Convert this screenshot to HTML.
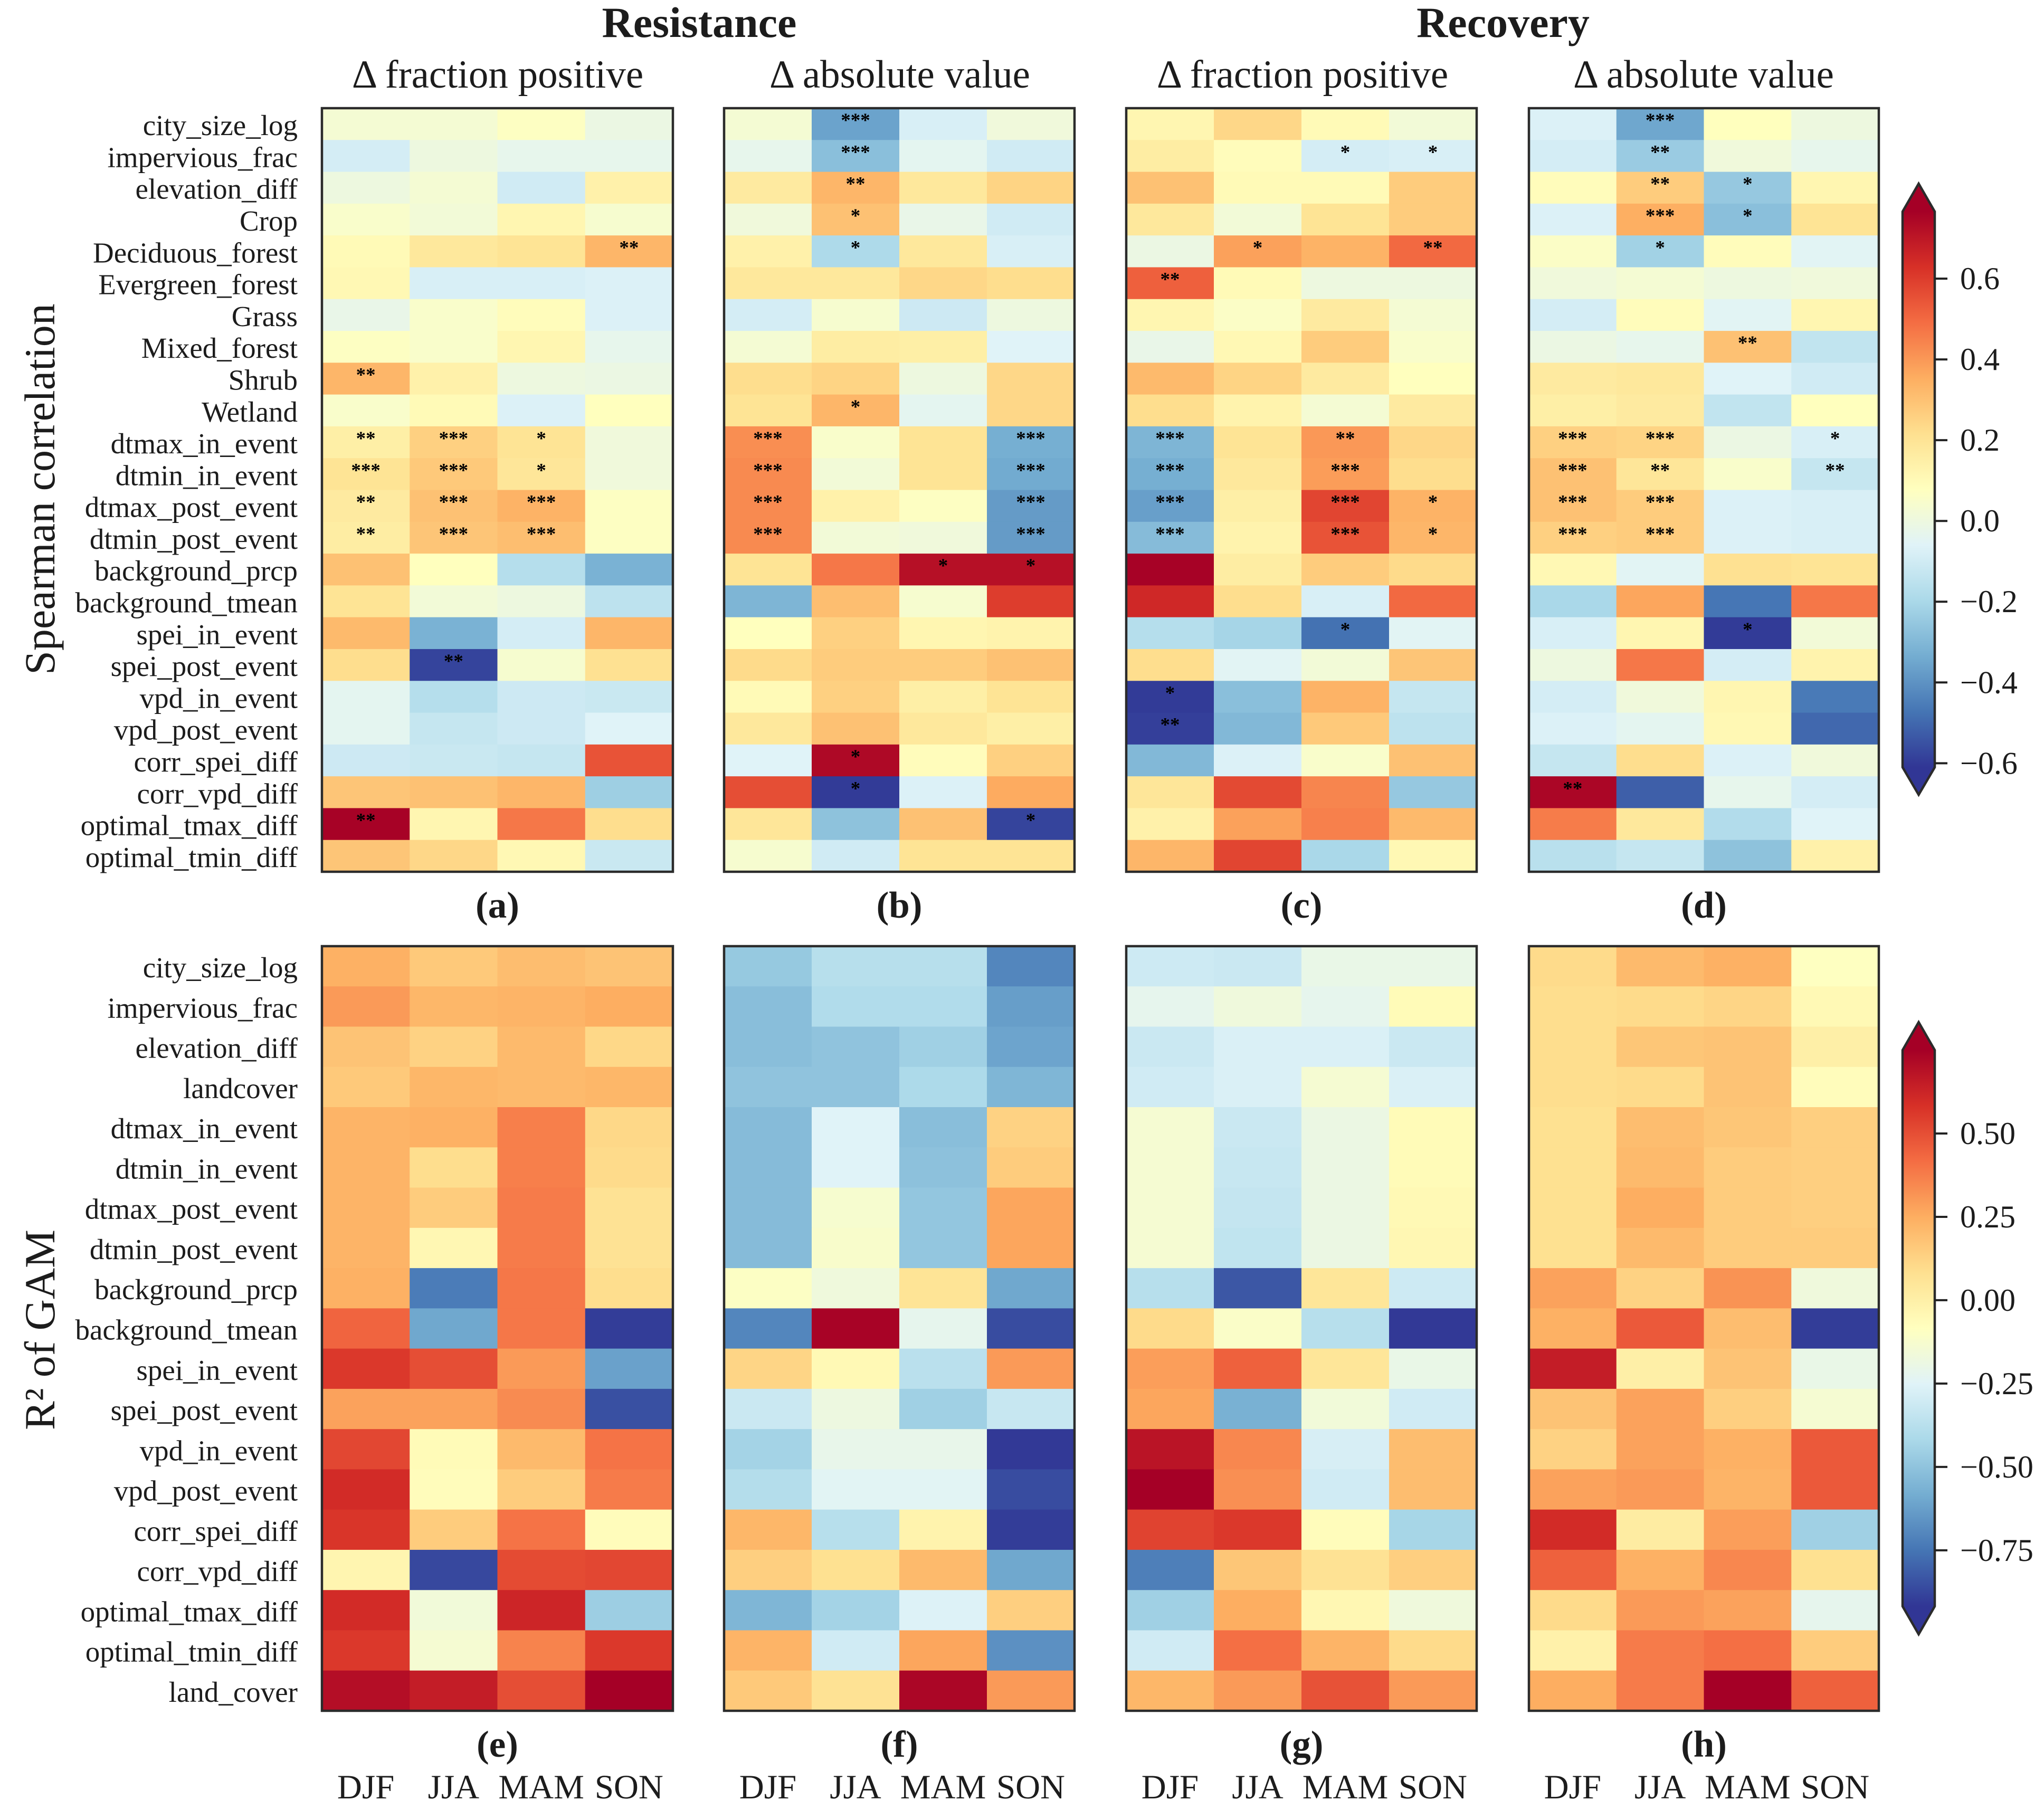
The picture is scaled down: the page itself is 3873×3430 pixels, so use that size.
<!DOCTYPE html>
<html>
<head>
<meta charset="utf-8">
<title>Spearman correlation and GAM R² heatmaps</title>
<style>
html,body{margin:0;padding:0;background:#fff;}
#chart{display:block;width:3873px;height:3430px;}
text{font-family:"Liberation Serif",serif;fill:#1c1c1c;}
</style>
</head>
<body>
<svg id="chart" xmlns="http://www.w3.org/2000/svg" width="3873" height="3430" viewBox="0 0 3873 3430">
<defs id="defs"></defs>
<rect x="0" y="0" width="3873" height="3430" fill="#fff"/>
<text x="1325" y="70" font-size="82" font-weight="bold" text-anchor="middle">Resistance</text>
<text x="2848" y="70" font-size="82" font-weight="bold" text-anchor="middle">Recovery</text>
<text x="943" y="166" font-size="75" text-anchor="middle">Δ fraction positive</text>
<text x="1705" y="166" font-size="75" text-anchor="middle">Δ absolute value</text>
<text x="2468" y="166" font-size="75" text-anchor="middle">Δ fraction positive</text>
<text x="3228" y="166" font-size="75" text-anchor="middle">Δ absolute value</text>
<text transform="translate(103,927) rotate(-90)" font-size="82" text-anchor="middle">Spearman correlation</text>
<text transform="translate(103,2520) rotate(-90)" font-size="82" text-anchor="middle">R² of GAM</text>
<g id="plots"></g>
<g id="bars"></g>
</svg>
<script>
const seasons = ['DJF','JJA','MAM','SON'];
const topRows = ['city_size_log','impervious_frac','elevation_diff','Crop','Deciduous_forest','Evergreen_forest','Grass','Mixed_forest','Shrub','Wetland','dtmax_in_event','dtmin_in_event','dtmax_post_event','dtmin_post_event','background_prcp','background_tmean','spei_in_event','spei_post_event','vpd_in_event','vpd_post_event','corr_spei_diff','corr_vpd_diff','optimal_tmax_diff','optimal_tmin_diff'];
const bottomRows = ['city_size_log','impervious_frac','elevation_diff','landcover','dtmax_in_event','dtmin_in_event','dtmax_post_event','dtmin_post_event','background_prcp','background_tmean','spei_in_event','spei_post_event','vpd_in_event','vpd_post_event','corr_spei_diff','corr_vpd_diff','optimal_tmax_diff','optimal_tmin_diff','land_cover'];

const valuesA = [[.03,.03,.07,-.01],[-.09,0,-.03,-.03],[0,.03,-.1,.14],[.05,.02,.12,.04],[.1,.18,.2,.33],[.11,-.08,-.08,-.07],[-.02,.05,.09,-.07],[.07,.05,.12,-.03],[.33,.14,0,-.01],[.05,.1,-.07,.08],[.15,.26,.2,.01],[.2,.28,.19,.01],[.17,.3,.34,.07],[.16,.29,.31,.07],[.3,.08,-.17,-.32],[.2,.02,0,-.15],[.32,-.32,-.09,.33],[.22,-.58,.04,.21],[-.04,-.17,-.11,-.12],[-.04,-.13,-.11,-.06],[-.11,-.12,-.13,.55],[.29,.3,.33,-.23],[.76,.12,.47,.22],[.29,.24,.11,-.12]];
const valuesB = [[.03,-.36,-.08,.01],[-.03,-.28,-.04,-.1],[.17,.33,.18,.25],[.01,.3,-.02,-.1],[.14,-.19,.18,-.08],[.18,.18,.24,.22],[-.09,.04,-.11,0],[.03,.16,.15,-.06],[.22,.25,0,.24],[.2,.33,-.04,.24],[.42,.05,.2,-.33],[.43,.02,.2,-.34],[.43,.14,.07,-.38],[.43,.02,.01,-.38],[.2,.47,.72,.72],[-.31,.31,.04,.6],[.08,.26,.12,.13],[.23,.27,.27,.3],[.1,.26,.15,.2],[.18,.3,.18,.15],[-.06,.74,.09,.26],[.56,-.6,-.07,.36],[.19,-.27,.3,-.58],[.04,-.1,.2,.2]];
const valuesC = [[.12,.24,.1,.02],[.16,.09,-.09,-.08],[.3,.1,.1,.27],[.18,.02,.2,.27],[-.01,.38,.34,.5],[.52,.1,0,0],[.12,.06,.17,.03],[-.02,.11,.27,.05],[.32,.25,.17,.08],[.22,.13,.03,.17],[-.31,.2,.4,.24],[-.33,.18,.39,.22],[-.37,.15,.58,.34],[-.29,.13,.55,.33],[.76,.16,.27,.23],[.65,.22,-.08,.5],[-.17,-.21,-.48,-.05],[.22,-.05,.02,.29],[-.6,-.28,.34,-.13],[-.59,-.3,.28,-.15],[-.3,-.07,.05,.3],[.19,.57,.44,-.25],[.14,.38,.45,.32],[.33,.58,-.2,.11]];
const valuesD = [[-.07,-.35,.08,0],[-.09,-.24,.01,-.03],[.09,.27,-.25,.12],[-.07,.35,-.28,.2],[.06,-.22,.09,-.05],[.01,.03,0,.01],[-.09,.09,-.05,.12],[-.01,-.03,.3,-.14],[.17,.18,-.06,-.1],[.15,.17,-.14,.08],[.26,.25,-.01,-.08],[.3,.19,.05,-.13],[.3,.27,-.07,-.08],[.26,.27,-.07,-.08],[.11,-.05,.21,.2],[-.2,.37,-.47,.47],[-.08,.12,-.6,.02],[0,.47,-.09,.13],[-.09,.01,.12,-.46],[-.07,-.04,.11,-.5],[-.13,.22,-.07,.01],[.75,-.52,-.03,-.09],[.46,.18,-.18,-.06],[-.16,-.13,-.27,.14]];
const starsA = ['','','','','...**','','','','**','','** *** *','*** *** *','** *** ***','** *** ***','','','','.**','','','','','**',''];
const starsB = ['.***','.***','.**','.*','.*','','','','','.*','*** . . ***','*** . . ***','*** . . ***','*** . . ***','. . * *','','','','','','.*','.*','...*',''];
const starsC = ['','..* *','','','.* .**','**','','','','','*** . ** ','*** . *** ','*** . *** *','*** . *** *','','','..*','','*','**','','','',''];
const starsD = ['.***','.**','.** *','.*** *','.*','','','..**','','','*** *** . *','*** ** . **','*** ***','*** ***','','','..*','','','','','**','',''];

const valuesE = [[.24,.16,.2,.18],[.3,.22,.23,.25],[.18,.13,.21,.11],[.16,.22,.21,.22],[.23,.24,.37,.11],[.23,.09,.37,.1],[.23,.15,.38,.07],[.23,-.04,.38,.07],[.24,-.73,.39,.09],[.44,-.6,.39,-.9],[.56,.5,.3,-.62],[.28,.28,.34,-.85],[.52,-.06,.21,.4],[.6,-.07,.15,.38],[.57,.15,.4,-.07],[-.03,-.87,.51,.52],[.6,-.16,.62,-.46],[.56,-.14,.36,.56],[.7,.65,.5,.75]];
const valuesF = [[-.48,-.38,-.38,-.7],[-.52,-.4,-.4,-.63],[-.52,-.5,-.45,-.61],[-.5,-.5,-.41,-.55],[-.53,-.25,-.52,.13],[-.53,-.25,-.51,.15],[-.53,-.13,-.49,.27],[-.53,-.12,-.49,.27],[-.1,-.17,.06,-.6],[-.7,.74,-.22,-.86],[.12,-.05,-.37,.3],[-.32,-.18,-.45,-.33],[-.44,-.21,-.21,-.91],[-.39,-.24,-.24,-.86],[.22,-.38,-.02,-.9],[.14,.08,.21,-.6],[-.55,-.44,-.26,.14],[.23,-.3,.27,-.67],[.16,.07,.73,.3]];
const valuesG = [[-.31,-.32,-.2,-.2],[-.22,-.17,-.22,-.06],[-.32,-.27,-.27,-.32],[-.3,-.27,-.14,-.27],[-.14,-.32,-.19,-.06],[-.14,-.33,-.19,-.06],[-.14,-.34,-.19,-.05],[-.14,-.35,-.19,-.04],[-.38,-.83,.05,-.31],[.1,-.11,-.38,-.91],[.29,.45,.05,-.2],[.27,-.57,-.16,-.3],[.68,.35,-.28,.2],[.75,.33,-.3,.2],[.53,.56,-.07,-.43],[-.72,.17,.07,.14],[-.45,.25,-.04,-.17],[-.3,.41,.23,.1],[.22,.3,.49,.3]];
const valuesH = [[.1,.21,.24,-.09],[.09,.1,.12,-.05],[.09,.17,.18,0],[.09,.1,.18,-.07],[.08,.2,.17,.14],[.08,.21,.15,.14],[.08,.25,.15,.14],[.08,.21,.15,.15],[.28,.13,.32,-.17],[.24,.47,.2,-.9],[.65,0,.18,-.2],[.18,.28,.14,-.14],[.13,.28,.24,.47],[.28,.3,.23,.47],[.6,.02,.29,-.45],[.45,.24,.35,.08],[.1,.3,.28,-.22],[-.01,.38,.41,.15],[.25,.38,.75,.45]];

const topTicks = [0.6,0.4,0.2,0.0,-0.2,-0.4,-0.6];
const topTickLabels = ['0.6','0.4','0.2','0.0','−0.2','−0.4','−0.6'];
const bottomTicks = [0.5,0.25,0,-0.25,-0.5,-0.75];
const bottomTickLabels = ['0.50','0.25','0.00','−0.25','−0.50','−0.75'];
const topRange = [-0.61,0.766];
const bottomRange = [-0.918,0.75];
const cmapStops = ['#313695','#4575b4','#74add1','#abd9e9','#e0f3f8','#ffffbf','#fee090','#fdae61','#f46d43','#d73027','#a50026'];

const NS = 'http://www.w3.org/2000/svg';
const plots = document.getElementById('plots');
const bars = document.getElementById('bars');
const defs = document.getElementById('defs');

function mk(tag, attrs, parent){
  const el = document.createElementNS(NS, tag);
  for (const k in attrs) el.setAttribute(k, attrs[k]);
  parent.appendChild(el);
  return el;
}
function hex(c){return [1,3,5].map(i=>parseInt(c.substr(i,2),16));}
function colorFor(v, range){
  let t = (v-range[0])/(range[1]-range[0]);
  t = Math.max(0,Math.min(1,t))*(cmapStops.length-1);
  const i = Math.min(Math.floor(t),cmapStops.length-2), f = t-i;
  const a = hex(cmapStops[i]), b = hex(cmapStops[i+1]);
  return 'rgb('+a.map((x,j)=>Math.round(x+(b[j]-x)*f)).join(',')+')';
}
function parseStars(s){
  // tokens separated by space; leading dots mark empty columns
  const out = ['','','',''];
  let col = 0;
  s.replace(/\./g,'. ').trim().split(/\s+/).forEach(tok=>{
    if (tok==='') return;
    if (tok==='.') { col++; return; }
    if (col<4) out[col] = tok;
    col++;
  });
  return out;
}

const panelLayout = [
  {id:'a',x0:610,x1:1275,y0:205,y1:1652,rows:topRows,vals:valuesA,stars:starsA,range:topRange},
  {id:'b',x0:1372,x1:2036,y0:205,y1:1652,rows:null,vals:valuesB,stars:starsB,range:topRange},
  {id:'c',x0:2134,x1:2798,y0:205,y1:1652,rows:null,vals:valuesC,stars:starsC,range:topRange},
  {id:'d',x0:2897,x1:3560,y0:205,y1:1652,rows:null,vals:valuesD,stars:starsD,range:topRange},
  {id:'e',x0:610,x1:1275,y0:1793,y1:3242,rows:bottomRows,vals:valuesE,stars:null,range:bottomRange},
  {id:'f',x0:1372,x1:2036,y0:1793,y1:3242,rows:null,vals:valuesF,stars:null,range:bottomRange},
  {id:'g',x0:2134,x1:2798,y0:1793,y1:3242,rows:null,vals:valuesG,stars:null,range:bottomRange},
  {id:'h',x0:2897,x1:3560,y0:1793,y1:3242,rows:null,vals:valuesH,stars:null,range:bottomRange}
];

panelLayout.forEach(function(p){
  const g = mk('g',{},plots);
  
  
  const nRows = p.vals.length, nCols = seasons.length;
  const xOf = c => p.x0 + (p.x1-p.x0)*c/nCols;
  const yOf = r => p.y0 + (p.y1-p.y0)*r/nRows;
  p.vals.forEach(function(row,r){
    row.forEach(function(v,c){
      const cell = mk('rect',{x:xOf(c),y:yOf(r),width:xOf(c+1)-xOf(c)+0.6,height:yOf(r+1)-yOf(r)+0.6,fill:colorFor(v,p.range)},g);
      
      
    });
  });
  if (p.stars) p.stars.forEach(function(s,r){
    parseStars(s).forEach(function(st,c){
      if(!st) return;
      const t = mk('text',{x:(xOf(c)+xOf(c+1))/2,y:(yOf(r)+yOf(r+1))/2+5,'font-size':37,'font-weight':'bold','text-anchor':'middle',style:'fill:#000'},g);
      
      
      t.textContent = st;
    });
  });
  const frame = mk('rect',{x:p.x0,y:p.y0,width:p.x1-p.x0,height:p.y1-p.y0,fill:'none',stroke:'#2b2b2b','stroke-width':4.5},g);
  
  
  if (p.rows) p.rows.forEach(function(name,r){
    const t = mk('text',{x:564,y:(yOf(r)+yOf(r+1))/2+21,'font-size':55,'text-anchor':'end'},g);
    
    
    t.textContent = name;
  });
  const lab = mk('text',{x:(p.x0+p.x1)/2,y:p.y1+87,'font-size':71,'font-weight':'bold','text-anchor':'middle'},g);
  
  
  lab.textContent = '('+p.id+')';
  if (p.y0>1000) seasons.forEach(function(s,c){
    const t = mk('text',{x:(xOf(c)+xOf(c+1))/2,y:3408,'font-size':65,'text-anchor':'middle'},g);
    
    
    t.textContent = s;
  });
});

function drawColorbar(id, x0, x1, tipTop, yTop, yBot, tipBot, range, ticks, labels){
  const grad = mk('linearGradient',{id:'grad-'+id,gradientUnits:'userSpaceOnUse',x1:0,x2:0,y1:yBot,y2:yTop},defs);
  cmapStops.forEach(function(c,i){
    mk('stop',{offset:i/(cmapStops.length-1),'stop-color':c},grad);
  });
  const g = mk('g',{},bars);
  
  
  const xm = (x0+x1)/2;
  const pts = [[xm,tipTop],[x1,yTop],[x1,yBot],[xm,tipBot],[x0,yBot],[x0,yTop]].map(a=>a.join(',')).join(' ');
  const body = mk('polygon',{points:pts,fill:'url(#grad-'+id+')',stroke:'#2b2b2b','stroke-width':4.5,'stroke-linejoin':'miter'},g);
  
  
  const yOf = v => yBot + (yTop-yBot)*(v-range[0])/(range[1]-range[0]);
  ticks.forEach(function(v,i){
    const y = yOf(v);
    const tk = mk('line',{x1:x1,x2:x1+24,y1:y,y2:y,stroke:'#222','stroke-width':4},g);
    
    
    const t = mk('text',{x:3714,y:y+20,'font-size':60},g);
    
    
    t.textContent = labels[i];
  });
}
drawColorbar('top',3605,3666,348,401,1454,1506,topRange,topTicks,topTickLabels);
drawColorbar('bottom',3605,3666,1937,1990,3044,3097,bottomRange,bottomTicks,bottomTickLabels);
</script>
</body>
</html>
